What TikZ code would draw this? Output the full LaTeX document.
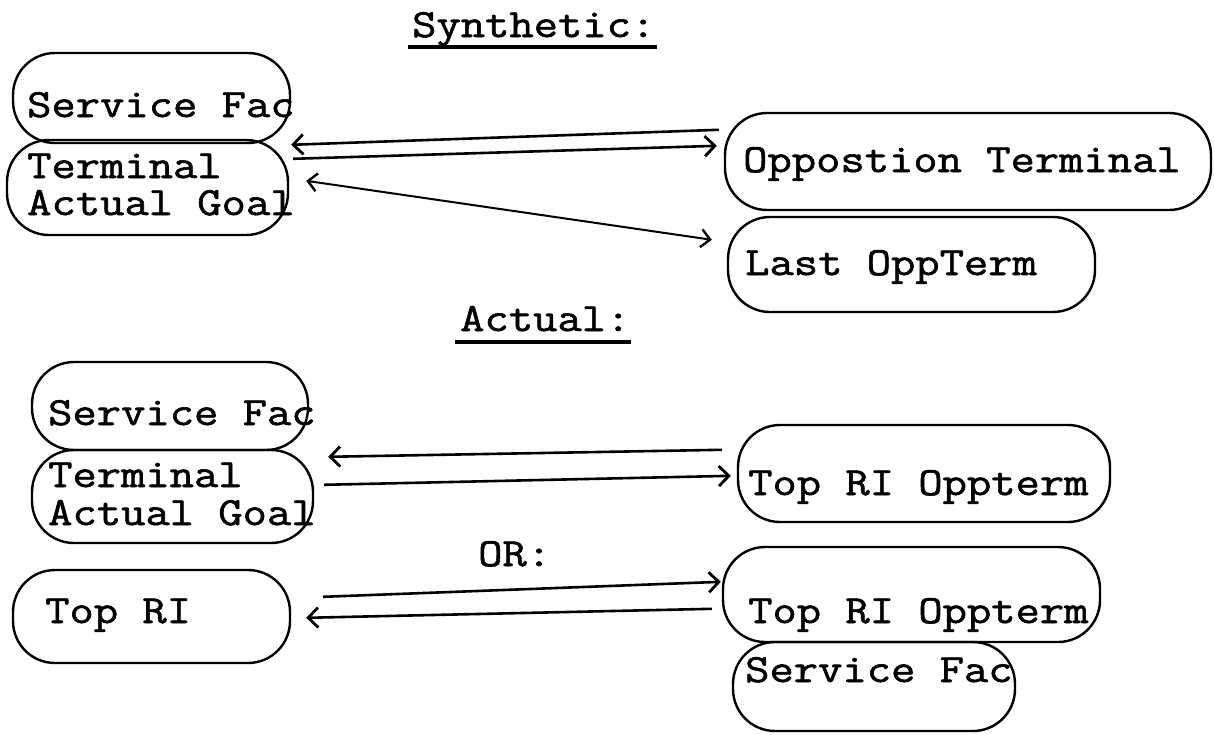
\documentclass[tikz,border=0pt]{standalone}
\usepackage{fontspec}
\newfontfamily\tw[FakeStretch=1.18,FakeBold=1.5]{Latin Modern Mono}
\usetikzlibrary{arrows.meta}
\tikzset{
  box/.style={draw, line width=2.4pt, rounded corners=42pt, inner sep=0pt},
  txt/.style={anchor=base west, inner sep=0pt, font=\tw\fontsize{40}{40}\selectfont},
  arr/.style={line width=2.6pt, -{Straight Barb[length=10pt,width=20pt,line width=2.8pt]}},
  darr/.style={line width=2pt, {Straight Barb[length=9pt,width=18pt,line width=2.4pt]}-{Straight Barb[length=9pt,width=18pt,line width=2.4pt]}},
  uline/.style={line width=3.4pt}
}
\begin{document}
\begin{tikzpicture}[x=1pt,y=-1pt]
\useasboundingbox (0,0) rectangle (1214,734);
% titles
\node[txt] (syn) at (412,37) {Synthetic:};
\draw[uline] ([shift={(-4,10)}]syn.base west) -- ([shift={(2,10)}]syn.base east);
\node[txt] (act) at (460,331) {Actual:};
\draw[uline] ([shift={(-5,11)}]act.base west) -- ([shift={(0,11)}]act.base east);
\node[txt] (or) at (478,566) {OR:};

% synthetic boxes
\node[box, minimum width=277pt, minimum height=90pt] (sf1) at (151.5,98) {};
\node[txt] at (27,117) {Service Fac};
\node[box, minimum width=281pt, minimum height=95pt] (tg1) at (147.5,187.5) {};
\node[txt] at (27,178) {Terminal};
\node[txt] at (27,215) {Actual Goal};
\node[box, minimum width=486pt, minimum height=97pt] (opp) at (968,161.5) {};
\node[txt] at (743,172) {Oppostion Terminal};
\node[box, minimum width=367pt, minimum height=95pt] (last) at (911.5,264.5) {};
\node[txt] at (745,275) {Last OppTerm};

\draw[arr] ([shift={(-5,18)}]opp.north west) -- ([shift={(2,6)}]tg1.north east);
\draw[arr] ([shift={(4,20)}]tg1.north east) -- ([shift={(-7,34)}]opp.north west);
\draw[darr] ([shift={(17,42)}]tg1.north east) -- ([shift={(-15,24)}]last.north west);

% actual boxes
\node[box, minimum width=276pt, minimum height=88pt] (sf2) at (170,406) {};
\node[txt] at (48,425) {Service Fac};
\node[box, minimum width=281pt, minimum height=93pt] (tg2) at (172.5,496.5) {};
\node[txt] at (48,487) {Terminal};
\node[txt] at (48,525) {Actual Goal};
\node[box, minimum width=372pt, minimum height=97pt] (top1) at (924,473.5) {};
\node[txt] at (748,495) {Top RI Oppterm};

\draw[arr] ([shift={(-15,26)}]top1.north west) -- ([shift={(14,8)}]tg2.north east);
\draw[arr] ([shift={(10,36)}]tg2.north east) -- ([shift={(-6,52)}]top1.north west);

% or boxes
\node[box, minimum width=277pt, minimum height=93pt] (topri) at (151.5,616.5) {};
\node[txt] at (45,623) {Top RI};
\node[box, minimum width=377pt, minimum height=95pt] (top2) at (911.5,594.5) {};
\node[txt] at (748,623) {Top RI Oppterm};
\node[box, minimum width=282pt, minimum height=89pt] (sf3) at (874,686.5) {};
\node[txt] at (745,682) {Service Fac};

\draw[arr] ([shift={(32,28)}]topri.north east) -- ([shift={(-1,36)}]top2.north west);
\draw[arr] ([shift={(-10,63)}]top2.north west) -- ([shift={(15,49)}]topri.north east);
\end{tikzpicture}
\end{document}
